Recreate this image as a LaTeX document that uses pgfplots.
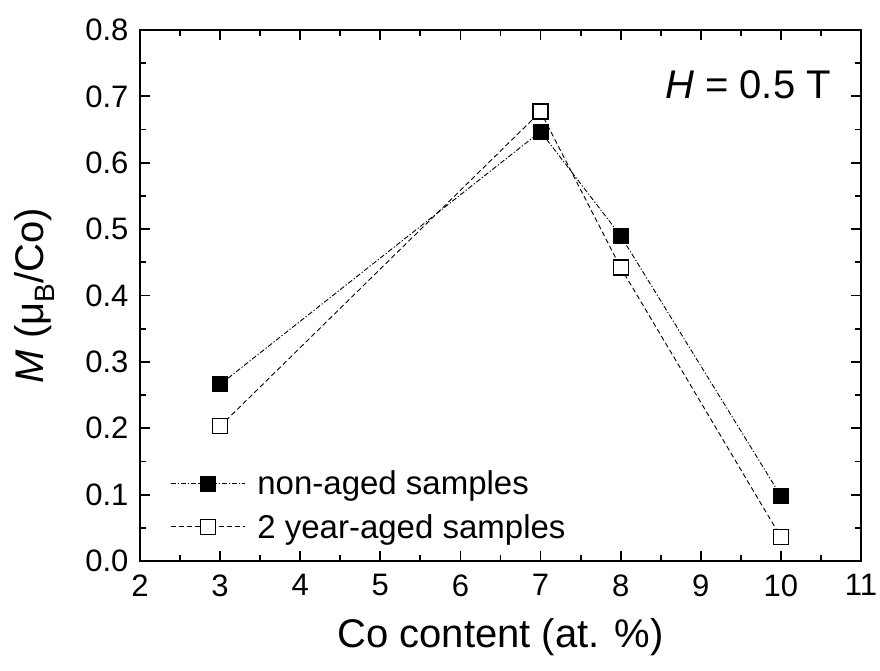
\documentclass[border=0pt]{standalone}
\usepackage{pgfplots}
\pgfplotsset{compat=1.18}
\usepackage{fontspec}
\setmainfont{Liberation Sans}
\begin{document}
\begin{tikzpicture}
\begin{axis}[
  scale only axis,
  width=721pt, height=531pt,
  xmin=2, xmax=11, ymin=0, ymax=0.8,
  xtick={2,3,...,11},
  ytick={0,0.1,...,0.8},
  minor x tick num=1,
  minor y tick num=1,
  tick align=inside,
  tick pos=both,
  major tick length=10pt,
  minor tick length=6pt,
  every tick/.style={black, line width=1.8pt},
  axis line style={line width=2.5pt},
  /pgf/number format/assume math mode=true,
  xticklabel style={font=\fontsize{31}{37}\selectfont, yshift=-10pt},
  yticklabel style={font=\fontsize{31}{37}\selectfont, xshift=-8pt},
  xticklabel={\pgfmathprintnumber[fixed,precision=0]{\tick}},
  yticklabel={\pgfmathprintnumber[fixed,fixed zerofill,precision=1]{\tick}},
  xlabel={Co content (at. \%)},
  ylabel={\textit{M} (μ\textsubscript{B}/Co)},
  xlabel style={font=\fontsize{40}{48}\selectfont, at={(axis description cs:0.5,-0.144)}, anchor=center},
  ylabel style={font=\fontsize{40}{48}\selectfont, at={(axis description cs:-0.146,0.5)}, anchor=center},
  clip=false,
  legend style={draw=none, fill=none, at={(0.042,0.174)}, anchor=north west,
    font=\fontsize{33}{39}\selectfont, row sep=14pt, column sep=10pt, inner sep=0pt},
  legend cell align=left,
  legend image code/.code={\draw[#1, mark repeat=2, mark phase=2] plot coordinates {(0pt,0pt) (37pt,0pt) (74pt,0pt)};},
]
\addplot[black, line width=0.9pt, dash pattern=on 5pt off 2pt on 1.2pt off 2pt,
  mark=square*, mark size=7.5pt, mark options={solid, fill=black}]
  coordinates {(3,0.266) (7,0.647) (8,0.490) (10,0.098)};
\addlegendentry{non-aged samples}
\addplot[black, line width=0.9pt, dash pattern=on 5pt off 3pt,
  mark=square*, mark size=7.5pt, mark options={solid, fill=white, line width=1.3pt}]
  coordinates {(3,0.203) (7,0.677) (8,0.442) (10,0.036)};
\addlegendentry{2 year-aged samples}
\node[font=\fontsize{40}{48}\selectfont] at (axis cs:9.59,0.717) {\textit{H} = 0.5 T};
\end{axis}
\pgfresetboundingbox
\useasboundingbox (-140pt,-109pt) rectangle (740pt,561pt);
\end{tikzpicture}
\end{document}
